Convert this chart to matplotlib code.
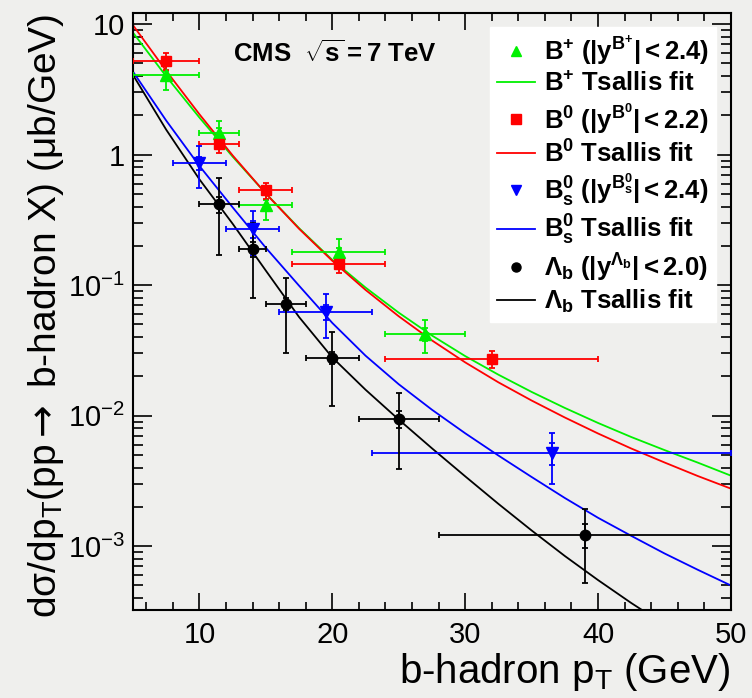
import numpy as np
import matplotlib
matplotlib.use('Agg')
import matplotlib.pyplot as plt
from matplotlib.lines import Line2D
from matplotlib.ticker import FuncFormatter, MultipleLocator, LogLocator, NullFormatter

plt.rcParams['font.family'] = ['Liberation Sans', 'DejaVu Sans']
plt.rcParams['mathtext.fontset'] = 'custom'
plt.rcParams['mathtext.rm'] = 'Liberation Sans'
plt.rcParams['mathtext.it'] = 'Liberation Sans:italic'
plt.rcParams['mathtext.bf'] = 'Liberation Sans:bold'
plt.rcParams['mathtext.sf'] = 'DejaVu Sans'
plt.rcParams['mathtext.default'] = 'regular'

#Data (pT in GeV, cross section in mub/GeV)
bp_pt = np.array([7.5, 11.5, 15, 20.5, 27])
bp_lo = np.array([5, 10, 13, 17, 24])
bp_hi = np.array([10, 13, 17, 24, 30])
bp_y = np.array([4.05, 1.47, 0.41, 0.18, 0.042])
bp_tot = np.array([0.93, 0.34, 0.097, 0.045, 0.012])
bp_stat = np.array([0.35, 0.12, 0.035, 0.014, 0.005])

b0_pt = np.array([7.5, 11.5, 15, 20.5, 32])
b0_lo = np.array([5, 10, 13, 17, 24])
b0_hi = np.array([10, 13, 17, 24, 40])
b0_y = np.array([5.2, 1.21, 0.535, 0.146, 0.0272])
b0_tot = np.array([0.75, 0.18, 0.075, 0.022, 0.0042])
b0_stat = np.array([0.3, 0.08, 0.03, 0.01, 0.002])

bs_pt = np.array([10, 14, 19.5, 36.5])
bs_lo = np.array([8, 12, 16, 23])
bs_hi = np.array([12, 16, 23, 50])
bs_y = np.array([0.86, 0.27, 0.062, 0.0052])
bs_tot = np.array([0.31, 0.1, 0.023, 0.0022])
bs_stat = np.array([0.1, 0.04, 0.008, 0.001])

lb_pt = np.array([11.5, 14, 16.5, 20, 25, 39])
lb_lo = np.array([10, 13, 15, 18, 22, 28])
lb_hi = np.array([13, 15, 18, 22, 28, 50])
lb_y = np.array([0.415, 0.19, 0.072, 0.0278, 0.0094, 0.00122])
lb_tot = np.array([0.245, 0.11, 0.042, 0.016, 0.0055, 0.0007])
lb_stat = np.array([0.06, 0.025, 0.007, 0.003, 0.0014, 0.00025])

#Tsallis fit curves, every 2.5 GeV
fit_x = [5, 7.5, 10, 12.5, 15, 17.5, 20, 22.5, 25, 27.5, 30, 32.5, 35, 37.5, 40, 42.5, 45, 47.5, 50]
bp_fit_y = [8.59, 3.97, 1.92, 0.964, 0.503, 0.273, 0.156, 0.0958, 0.0615, 0.0411, 0.0286, 0.0206, 0.0152,
            0.01146, 0.00879, 0.00686, 0.00545, 0.00437, 0.00347]
b0_fit_y = [9.79, 4.38, 2.035, 0.985, 0.502, 0.270, 0.1535, 0.0919, 0.0577, 0.0377, 0.0256, 0.0180, 0.01306,
            0.00968, 0.0073, 0.0056, 0.00438, 0.00345, 0.00276]
bs_fit_y = [4.315, 1.82, 0.818, 0.394, 0.193, 0.0989, 0.0513, 0.0288, 0.0174, 0.0111, 0.00733, 0.00495, 0.00339,
            0.00234, 0.00165, 0.0012, 0.00088, 0.00066, 0.0005]
lb_fit_y = [4.07, 1.55, 0.646, 0.295, 0.129, 0.0569, 0.0279, 0.0158, 0.00933, 0.00562, 0.00343, 0.00211, 0.00132,
            0.000841, 0.00055, 0.000367, 0.000251, 0.00017, 0.000115]

labels = [r'$\mathbf{B^{+}\ (|y^{B^{+}}| < 2.4)}$', r'$\mathbf{B^{+}\ Tsallis\ fit}$',
          r'$\mathbf{B^{0}\ (|y^{B^{0}}| < 2.2)}$', r'$\mathbf{B^{0}\ Tsallis\ fit}$',
          r'$\mathbf{B^{0}_{s}\ (|y^{B^{0}_{s}}| < 2.4)}$', r'$\mathbf{B^{0}_{s}\ Tsallis\ fit}$',
          r'$\mathbf{\Lambda_{b}\ (|y^{\Lambda_{b}}| < 2.0)}$', r'$\mathbf{\Lambda_{b}\ Tsallis\ fit}$']

bg = '#efefed'
green, red, blue, black = '#00f000', '#ff0000', '#0000ff', '#000000'

fig = plt.figure(figsize=(7.52, 6.98), dpi=100, facecolor=bg)
ax = fig.add_axes([0.1769, 0.126, 0.795, 0.855])
ax.set_facecolor(bg)

sets = [(bp_pt, bp_lo, bp_hi, bp_y, bp_tot, bp_stat, green, '^', 8.5),
        (b0_pt, b0_lo, b0_hi, b0_y, b0_tot, b0_stat, red, 's', 7),
        (bs_pt, bs_lo, bs_hi, bs_y, bs_tot, bs_stat, blue, 'v', 8.5),
        (lb_pt, lb_lo, lb_hi, lb_y, lb_tot, lb_stat, black, 'o', 7.5)]
fits = [(bp_fit_y, green), (b0_fit_y, red), (bs_fit_y, blue), (lb_fit_y, black)]

for pt, lo, hi, y, tot, stat, c, m, ms in sets:
    ax.errorbar(pt, y, xerr=[pt-lo, hi-pt], yerr=tot, fmt='none', ecolor=c, elinewidth=1.3, capsize=2.2, capthick=1.3, zorder=3)
    ax.errorbar(pt, y, yerr=stat, fmt='none', ecolor=c, elinewidth=1.3, capsize=2.2, capthick=1.3, zorder=3)
    ax.plot(pt, y, ls='none', marker=m, ms=ms, color=c, zorder=4)

for fy, c in fits:
    ax.plot(fit_x, fy, color=c, lw=1.3, zorder=2)

ax.set_yscale('log')
ax.set_xlim(5, 50)
ax.set_ylim(3.24e-4, 12.1)

def ylab(v, pos):
    e = int(round(np.log10(v)))
    if e == 1: return '10'
    if e == 0: return '1'
    return r'$10^{%d}$' % e

ax.yaxis.set_major_locator(LogLocator(base=10, numticks=10))
ax.yaxis.set_minor_locator(LogLocator(base=10, subs=np.arange(2, 10), numticks=20))
ax.yaxis.set_major_formatter(FuncFormatter(ylab))
ax.yaxis.set_minor_formatter(NullFormatter())
ax.xaxis.set_major_locator(MultipleLocator(10))
ax.xaxis.set_minor_locator(MultipleLocator(2))

ax.tick_params(which='both', direction='in', top=True, right=True, width=1.2, labelsize=21)
ax.tick_params(axis='x', which='major', length=12, pad=8)
ax.tick_params(axis='x', which='minor', length=6)
ax.tick_params(axis='y', which='major', length=14, pad=6)
ax.tick_params(axis='y', which='minor', length=7)
for s in ax.spines.values():
    s.set_linewidth(1.5)

ax.set_xlabel(r'b-hadron p$_{T}$ (GeV)', fontsize=29, loc='right', labelpad=1)
ax.set_ylabel(r'd$\sigma$/dp$_{T}$(pp$\mathsf{\rightarrow}$ b-hadron X) ($\mu$b/GeV)', fontsize=28, loc='top', labelpad=1)

ax.text(0.168, 0.918, r'$\mathbf{CMS\ \ \sqrt{s} = 7\ TeV}$', transform=ax.transAxes, fontsize=18.5, va='baseline')

#Legend built from proxy handles (markers only / lines only)
handles = []
for pt, lo, hi, y, tot, stat, c, m, ms in sets:
    handles.append(Line2D([], [], ls='none', marker=m, color=c, ms=6.5))
    handles.append(Line2D([], [], color=c, lw=1.3))
leg = ax.legend(handles, labels, loc='upper right', bbox_to_anchor=(0.975, 0.977), fontsize=18.5,
                frameon=True, facecolor='white', edgecolor='white', framealpha=1, fancybox=False,
                handlelength=1.5, handletextpad=0.35, labelspacing=0.17, borderpad=0.25, borderaxespad=0)

fig.savefig('out.png', dpi=100, facecolor=bg)
